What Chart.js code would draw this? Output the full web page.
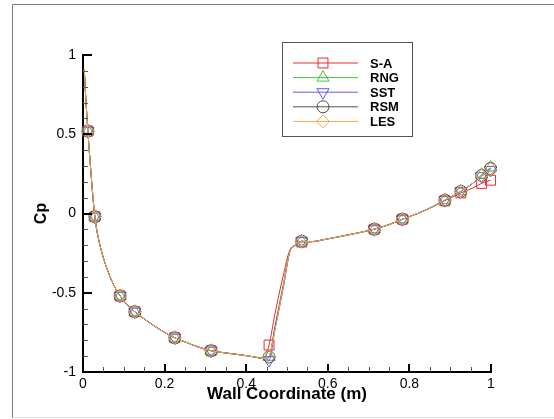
<!DOCTYPE html>
<html>
<head>
<meta charset="utf-8">
<script src="https://cdn.jsdelivr.net/npm/chart.js@4.4.1/dist/chart.umd.min.js"></script>
<style>
  html, body { margin: 0; padding: 0; background: #fff; }
  #wrap { position: relative; width: 554px; height: 419px; }
</style>
</head>
<body>
<div id="wrap"><canvas id="cpChart"></canvas></div>
<script>
// Wall coordinate samples (m), shared by all models
const xCoord = [0.003, 0.007, 0.012, 0.02, 0.029, 0.038, 0.05, 0.062, 0.075, 0.091,
    0.108, 0.127, 0.15, 0.175, 0.2, 0.225, 0.25, 0.28, 0.314, 0.35,
    0.39, 0.42, 0.443, 0.456, 0.47, 0.49, 0.507, 0.52, 0.536, 0.555,
    0.6, 0.65, 0.714, 0.75, 0.783, 0.82, 0.855, 0.887, 0.926, 0.955,
    0.977, 0.999];

const cpRSM = [0.91, 0.72, 0.52, 0.24, -0.02, -0.16, -0.28, -0.37, -0.45, -0.52,
    -0.575, -0.62, -0.665, -0.71, -0.75, -0.784, -0.81, -0.84, -0.866, -0.88,
    -0.893, -0.905, -0.915, -0.905, -0.72, -0.46, -0.24, -0.2, -0.175, -0.178,
    -0.16, -0.135, -0.099, -0.07, -0.036, 0.0, 0.04, 0.084, 0.14, 0.19,
    0.24, 0.284];
const cpSA = [0.91, 0.72, 0.52, 0.24, -0.02, -0.16, -0.28, -0.37, -0.45, -0.52,
    -0.575, -0.62, -0.665, -0.71, -0.75, -0.784, -0.81, -0.84, -0.866, -0.88,
    -0.893, -0.905, -0.915, -0.83, -0.64, -0.4, -0.23, -0.2, -0.18, -0.18,
    -0.16, -0.135, -0.099, -0.07, -0.036, 0.0, 0.04, 0.08, 0.13, 0.16,
    0.19, 0.21];
const cpRNG = [0.91, 0.72, 0.52, 0.24, -0.02, -0.16, -0.28, -0.37, -0.45, -0.52,
    -0.575, -0.62, -0.665, -0.71, -0.75, -0.784, -0.81, -0.84, -0.866, -0.88,
    -0.893, -0.905, -0.915, -0.905, -0.73, -0.48, -0.24, -0.2, -0.175, -0.178,
    -0.16, -0.135, -0.099, -0.07, -0.036, 0.0, 0.04, 0.084, 0.14, 0.19,
    0.245, 0.29];
const cpSST = [0.91, 0.72, 0.52, 0.24, -0.02, -0.16, -0.28, -0.37, -0.45, -0.52,
    -0.575, -0.62, -0.665, -0.71, -0.75, -0.784, -0.81, -0.84, -0.866, -0.88,
    -0.893, -0.905, -0.915, -0.925, -0.74, -0.48, -0.24, -0.2, -0.175, -0.178,
    -0.16, -0.135, -0.099, -0.07, -0.036, 0.0, 0.04, 0.084, 0.14, 0.19,
    0.235, 0.275];
const cpLES = [0.91, 0.72, 0.52, 0.24, -0.02, -0.16, -0.28, -0.37, -0.45, -0.52,
    -0.575, -0.62, -0.665, -0.71, -0.75, -0.784, -0.81, -0.84, -0.866, -0.88,
    -0.893, -0.905, -0.915, -0.9, -0.74, -0.47, -0.24, -0.2, -0.175, -0.178,
    -0.16, -0.135, -0.099, -0.07, -0.036, 0.0, 0.04, 0.084, 0.14, 0.19,
    0.24, 0.28];

// indices of the samples that carry a symbol
const markerIndex = [2, 4, 9, 11, 15, 18, 23, 28, 32, 34, 37, 38, 40, 41];

const modelNames = ['S-A', 'RNG', 'SST', 'RSM', 'LES'];

const xMajorTicks = [0, 0.2, 0.4, 0.6, 0.8, 1];
const xMinorTicks = [0.05, 0.1, 0.15, 0.25, 0.3, 0.35, 0.45, 0.5, 0.55, 0.65, 0.7, 0.75, 0.85, 0.9, 0.95];
const yMajorTicks = [-1, -0.5, 0, 0.5, 1];
const yMinorTicks = [-0.9, -0.8, -0.7, -0.6, -0.4, -0.3, -0.2, -0.1, 0.1, 0.2, 0.3, 0.4, 0.6, 0.7, 0.8, 0.9];

function toPoints(ys) {
    return xCoord.map((x, i) => ({ x: x, y: ys[i] }));
}

// tecplot style labels: 1, 0.5, 0 (no trailing zeros)
function plainLabel(v) {
    return String(Math.round(v * 100) / 100);
}

function makeSeries(label, ys, color, style, radius, rotation, order) {
    return {
        label: label,
        data: toPoints(ys),
        borderColor: color,
        borderWidth: 1,
        pointStyle: style,
        pointRotation: rotation,
        markerRadius: radius,
        pointBorderColor: color,
        pointBackgroundColor: 'rgba(0,0,0,0)',
        pointBorderWidth: 1,
        pointRadius: ctx => markerIndex.includes(ctx.dataIndex) ? radius : 0,
        cubicInterpolationMode: 'monotone',
        clip: false,
        order: order
    };
}

// frame, inward ticks and the boxed legend
const decorPlugin = {
    id: 'decor',
    beforeDraw(chart) {
        const ctx = chart.ctx;
        ctx.save();
        ctx.lineWidth = 1;
        ctx.strokeStyle = '#7a7a7a';
        ctx.beginPath();
        ctx.moveTo(12.5, 418);
        ctx.lineTo(12.5, 4.5);
        ctx.lineTo(554, 4.5);
        ctx.stroke();
        ctx.strokeStyle = '#dcdcdc';
        ctx.beginPath();
        ctx.moveTo(12.5, 417.5);
        ctx.lineTo(554, 417.5);
        ctx.stroke();
        ctx.restore();
    },
    afterDraw(chart) {
        const ctx = chart.ctx;
        const xs = chart.scales.x, ys = chart.scales.y;
        const area = chart.chartArea;
        ctx.save();
        // minor ticks
        ctx.strokeStyle = '#555';
        ctx.lineWidth = 1;
        ctx.beginPath();
        xMinorTicks.forEach(v => {
            const px = Math.round(xs.getPixelForValue(v)) + 0.5;
            ctx.moveTo(px, area.bottom);
            ctx.lineTo(px, area.bottom - 5);
        });
        yMinorTicks.forEach(v => {
            const py = Math.round(ys.getPixelForValue(v)) + 0.5;
            ctx.moveTo(area.left, py);
            ctx.lineTo(area.left + 5, py);
        });
        ctx.stroke();
        // major ticks
        ctx.strokeStyle = '#000';
        ctx.lineWidth = 2;
        ctx.beginPath();
        xMajorTicks.forEach(v => {
            const px = Math.round(xs.getPixelForValue(v));
            ctx.moveTo(px, area.bottom);
            ctx.lineTo(px, area.bottom - 8);
        });
        yMajorTicks.forEach(v => {
            const py = Math.round(ys.getPixelForValue(v));
            ctx.moveTo(area.left, py);
            ctx.lineTo(area.left + 9, py);
        });
        ctx.stroke();

        // legend box
        const bx = 282.5, by = 42.5, bw = 130, bh = 94;
        ctx.fillStyle = '#fff';
        ctx.fillRect(bx, by, bw, bh);
        ctx.strokeStyle = '#555';
        ctx.lineWidth = 1;
        ctx.strokeRect(bx, by, bw, bh);
        ctx.font = 'bold 13px Arial, "Liberation Sans", sans-serif';
        ctx.textBaseline = 'middle';
        ctx.textAlign = 'left';
        chart.data.datasets.forEach((ds, i) => {
            const rowY = 63 + i * 14.6;
            ctx.strokeStyle = ds.borderColor;
            ctx.lineWidth = 1;
            ctx.beginPath();
            ctx.moveTo(293, rowY);
            ctx.lineTo(358, rowY);
            ctx.stroke();
            ctx.fillStyle = 'rgba(0,0,0,0)';
            ctx.strokeStyle = ds.borderColor;
            Chart.helpers.drawPoint(ctx, {
                pointStyle: ds.pointStyle,
                rotation: ds.pointRotation,
                radius: ds.markerRadius,
                borderWidth: 1
            }, 323, rowY);
            ctx.fillStyle = '#000';
            ctx.fillText(ds.label, 370, rowY + 1);
        });
        ctx.restore();
    }
};

const datasets = [
    makeSeries(modelNames[0], cpSA, 'rgb(232, 44, 44)', 'rect', 7, 0, 5),
    makeSeries(modelNames[1], cpRNG, 'rgb(60, 200, 60)', 'triangle', 7, 0, 4),
    makeSeries(modelNames[2], cpSST, 'rgb(90, 90, 250)', 'triangle', 7, 180, 3),
    makeSeries(modelNames[3], cpRSM, 'rgb(80, 80, 80)', 'circle', 6, 0, 2),
    makeSeries(modelNames[4], cpLES, 'rgb(255, 165, 80)', 'rectRot', 6.5, 0, 1)
];

new Chart(document.getElementById('cpChart').getContext('2d'), {
    type: 'line',
    data: { datasets: datasets },
    options: {
        responsive: true,
        maintainAspectRatio: false,
        animation: false,
        events: [],
        layout: { padding: { left: 0, top: 55, right: 63, bottom: 0 } },
        plugins: {
            legend: { display: false },
            tooltip: { enabled: false }
        },
        scales: {
            x: {
                type: 'linear',
                min: 0,
                max: 1,
                grid: { display: false, drawTicks: false },
                border: { display: true, color: '#000', width: 2 },
                ticks: {
                    stepSize: 0.2,
                    padding: 4,
                    color: '#000',
                    maxRotation: 0,
                    callback: plainLabel,
                    font: { family: 'Arial, "Liberation Sans", sans-serif', size: 14 }
                },
                title: {
                    display: true,
                    text: 'Wall Coordinate (m)',
                    color: '#000',
                    padding: { top: 0, bottom: 14 },
                    font: { family: 'Arial, "Liberation Sans", sans-serif', size: 17, weight: 'bold' }
                },
                afterFit: scale => { scale.height = 47; }
            },
            y: {
                type: 'linear',
                min: -1,
                max: 1,
                grid: { display: false, drawTicks: false },
                border: { display: true, color: '#000', width: 2 },
                ticks: {
                    stepSize: 0.5,
                    padding: 7,
                    color: '#000',
                    callback: plainLabel,
                    font: { family: 'Arial, "Liberation Sans", sans-serif', size: 14 }
                },
                title: {
                    display: true,
                    text: 'Cp',
                    color: '#000',
                    padding: { top: 32, bottom: 0 },
                    font: { family: 'Arial, "Liberation Sans", sans-serif', size: 16, weight: 'bold' }
                },
                afterFit: scale => { scale.width = 83; }
            }
        }
    },
    plugins: [decorPlugin]
});
</script>
</body>
</html>
